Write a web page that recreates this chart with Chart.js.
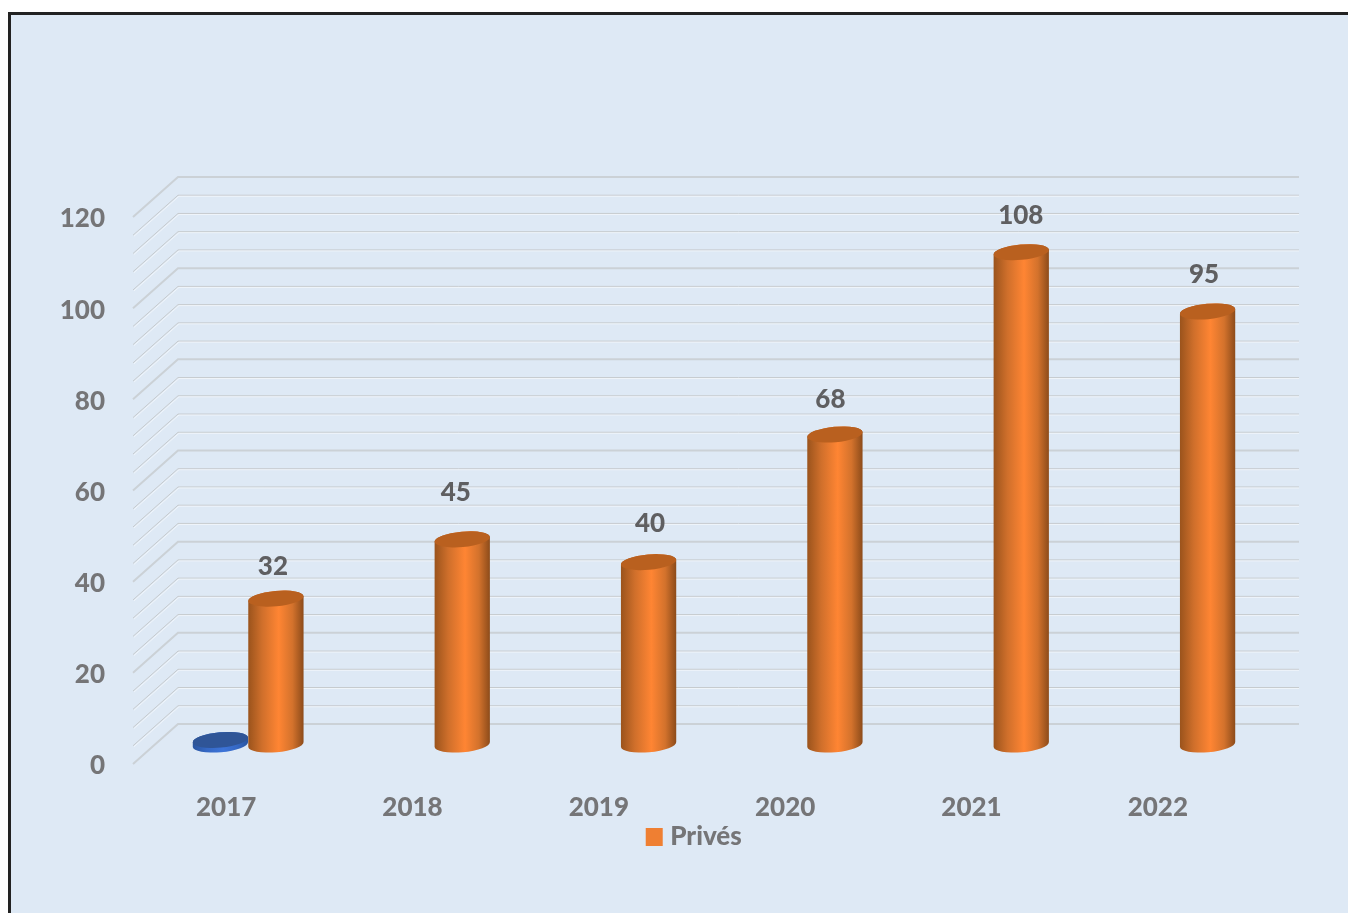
<!DOCTYPE html>
<html>
<head>
<meta charset="utf-8">
<script src="https://cdn.jsdelivr.net/npm/chart.js@4/dist/chart.umd.min.js"></script>
<style>
html, body { margin: 0; height: 100%; background: #fff; overflow: hidden; }
#panel { position: absolute; left: 8px; top: 12px; width: 1400px; height: 950px; background: #dee9f5; border: 3px solid #222; box-sizing: border-box; }
#myChart { position: absolute; left: 0; top: 0; }
</style>
</head>
<body>
<div id="panel"></div>
<canvas id="myChart" width="1348" height="913"></canvas>
<script>
const labels = ["2017", "2018", "2019", "2020", "2021", "2022"];
const prives = [32, 45, 40, 68, 108, 95];
const autres = [1, null, null, null, null, null];
const legendName = "Privés";
const yMax = 120;
const gridStep = 4;
const labelStep = 20;

// fake 3d: back wall offset, bars stand half way in the depth
// scale is 2px lower than the drawing so the labels sit like the original
const gridShiftY = -2;
const wallX = 45, wallY = -40, wallRight = 1299;
const barShiftX = 22, barShiftY = -21.5;
// data labels were moved by hand in the original
const labelDx = [-3, -6.5, 1.5, -4.5, -0.5, -3.5];
const labelDy = [-32, -47, -38.5, -34.5, -37, -37];

const fontName = "Lato, Carlito, sans-serif";
const fontSize = 26;
const fontWeight = "900";
const orange = { top: "#b9601f", stops: ["#9a531c", "#cf6f2b", "#ff8533", "#d3722c", "#8c4b1a"], legend: "#ef7f32" };
const blue = { top: "#2f5597", stops: ["#2a559f", "#3568c4", "#3d74d8", "#3568c4", "#2a559f"], legend: "#2f5597" };

function drawCylinder(ctx, x, top, base, w, col) {
    const rx = w / 2, ry = 7.7, rot = -0.09;
    const g = ctx.createLinearGradient(x - rx, 0, x + rx, 0);
    g.addColorStop(0, col.stops[0]);
    g.addColorStop(0.25, col.stops[1]);
    g.addColorStop(0.55, col.stops[2]);
    g.addColorStop(0.8, col.stops[3]);
    g.addColorStop(1, col.stops[4]);
    ctx.beginPath();
    ctx.ellipse(x, base, rx, ry, rot, 0, Math.PI);
    ctx.ellipse(x, top, rx, ry, rot, Math.PI, Math.PI * 2);
    ctx.closePath();
    ctx.fillStyle = g;
    ctx.fill();
    ctx.beginPath();
    ctx.ellipse(x, top, rx, ry, rot, 0, Math.PI * 2);
    ctx.fillStyle = col.top;
    ctx.fill();
}

const fake3d = {
    id: "fake3d",
    afterLayout(chart) {
        // legend sits under the axis labels, right of the page centre
        const legend = chart.legend;
        legend.left += 71;
        legend.right += 71;
        legend.top = 814;
        legend.bottom = legend.top + legend.height;
    },
    beforeDatasetsDraw(chart) {
        const ctx = chart.ctx, area = chart.chartArea, y = chart.scales.y;
        ctx.save();
        // grid on the floor diagonal and the back wall
        y.ticks.forEach(t => {
            const py = y.getPixelForValue(t.value) + gridShiftY;
            const major = t.value % labelStep === 0;
            ctx.beginPath();
            ctx.moveTo(area.left, py);
            ctx.lineTo(area.left + wallX, py + wallY);
            ctx.lineTo(wallRight, py + wallY);
            ctx.lineWidth = major ? 2 : 1;
            ctx.strokeStyle = major ? "#cbd1d6" : "#c6cacd";
            ctx.stroke();
            if (!major) {
                ctx.beginPath();
                ctx.moveTo(area.left + 1, py + 1);
                ctx.lineTo(area.left + wallX + 1, py + wallY + 1);
                ctx.lineTo(wallRight, py + wallY + 1);
                ctx.strokeStyle = "rgba(255,255,255,0.55)";
                ctx.stroke();
            }
        });
        ctx.translate(barShiftX, barShiftY);
        chart.data.datasets.forEach((ds, i) => {
            const col = i === 0 ? blue : orange;
            chart.getDatasetMeta(i).data.forEach((bar, j) => {
                if (ds.data[j] === null) return;
                const p = bar.getProps(["x", "y", "base", "width"], true);
                drawCylinder(ctx, p.x, p.y, p.base, p.width, col);
            });
        });
        ctx.restore();
    },
    beforeDatasetDraw() {
        // cylinders are already painted above
        return false;
    },
    afterDatasetsDraw(chart) {
        const ctx = chart.ctx;
        ctx.save();
        ctx.font = fontWeight + " " + fontSize + "px " + fontName;
        ctx.fillStyle = "#5f5f61";
        ctx.textAlign = "center";
        ctx.textBaseline = "middle";
        chart.getDatasetMeta(1).data.forEach((bar, j) => {
            const p = bar.getProps(["x", "y"], true);
            ctx.fillText(prives[j], p.x + barShiftX + labelDx[j], p.y + barShiftY + labelDy[j]);
        });
        ctx.restore();
    }
};

var ctx = document.getElementById('myChart').getContext('2d');

var chart = new Chart(ctx, {
    type: 'bar',
    data: {
        labels: labels,
        datasets: [{
            label: '',
            data: autres,
            backgroundColor: blue.legend,
            barThickness: 55.5
        }, {
            label: legendName,
            data: prives,
            backgroundColor: orange.legend,
            // thick border makes the legend box big with a short gap to the text
            borderColor: orange.legend,
            borderWidth: 11,
            barThickness: 55.5
        }]
    },
    options: {
        responsive: false,
        animation: false,
        layout: {
            padding: { top: 219, right: 97, bottom: 41, left: 0 }
        },
        scales: {
            x: {
                grid: { display: false, drawTicks: false },
                border: { display: false },
                afterFit: s => { s.height = 60; },
                ticks: {
                    padding: 26,
                    maxRotation: 0,
                    color: "#757577",
                    font: { family: fontName, size: fontSize, weight: fontWeight }
                }
            },
            y: {
                min: 0,
                max: yMax,
                grid: { display: false, drawTicks: false },
                border: { display: false },
                afterFit: s => { s.width = 133; },
                ticks: {
                    stepSize: gridStep,
                    autoSkip: false,
                    padding: 28,
                    color: "#757577",
                    font: { family: fontName, size: fontSize, weight: fontWeight },
                    callback: v => (v % labelStep === 0 ? v : "")
                }
            }
        },
        plugins: {
            tooltip: { enabled: false },
            legend: {
                position: 'bottom',
                labels: {
                    boxWidth: 6,
                    boxHeight: 7,
                    padding: 10,
                    color: "#757577",
                    font: { family: fontName, size: fontSize, weight: fontWeight },
                    filter: item => item.text !== ''
                }
            }
        }
    },
    plugins: [fake3d]
});
</script>
</body>
</html>
